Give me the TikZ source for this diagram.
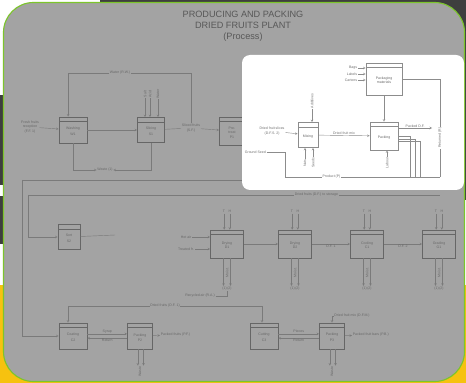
\documentclass[tikz,border=0pt]{standalone}
\usepackage{fontspec}
\setmainfont{Liberation Sans}
\definecolor{panelc}{HTML}{A3A3A3}
\definecolor{linec}{HTML}{7A7A7A}
\definecolor{boxc}{HTML}{666666}
\definecolor{txtc}{HTML}{686868}
\definecolor{titlec}{HTML}{585858}
\definecolor{insetc}{HTML}{8C8C8C}
\definecolor{greenc}{HTML}{7CC52B}
\definecolor{darkbg}{HTML}{3E3E3E}
\definecolor{yellowc}{HTML}{F6C20F}

\begin{document}
\begin{tikzpicture}[
  x=0.05cm,y=-0.05cm,>=stealth,
  blk/.style={draw=boxc,fill=panelc,line width=1pt,
    minimum width=1.4cm,minimum height=1.3cm,inner sep=1pt,align=center,
    font=\fontsize{5}{6}\selectfont,text=txtc,
    path picture={\draw[boxc,line width=0.6pt]
      ([yshift=-6pt]path picture bounding box.north west) --
      ([yshift=-6pt]path picture bounding box.north east);}},
  iblk/.style={blk,draw=insetc,fill=white,
    path picture={\draw[insetc,line width=0.6pt]
      ([yshift=-6pt]path picture bounding box.north west) --
      ([yshift=-6pt]path picture bounding box.north east);}},
  ln/.style={linec,line width=0.6pt},
  iln/.style={insetc,line width=0.6pt},
  lbl/.style={font=\fontsize{5}{6}\selectfont,text=txtc,align=center,inner sep=1pt},
  ilbl/.style={lbl,text=insetc!80!black},
  title/.style={font=\fontsize{13}{15.5}\selectfont,text=titlec,align=center}
]
  \useasboundingbox (0,0) rectangle (466,383);
  % backdrop
  \fill[white] (0,0) rectangle (466,383);
  \fill[darkbg] (100,0) rectangle (466,200);
  \fill[darkbg] (0,95) rectangle (8,185);
  \fill[darkbg] (0,196) rectangle (8,244);
  \fill[yellowc] (0,285) rectangle (466,383);
  \draw[greenc,line width=1.6pt,fill=panelc,rounded corners=1.5cm]
    (3.5,2.5) rectangle (464.5,381.5);

  \node[title] (ttl) at (243,26) {PRODUCING AND PACKING\\DRIED FRUITS PLANT\\(Process)};

  % first line
  \node[blk] (wash) at (73,130) {\\[2pt]Washing\\[2pt]W1};
  \node[blk,minimum width=1.35cm,minimum height=1.25cm] (slice) at (151,130) {\\[2pt]Slicing\\[2pt]S1};
  \node[blk,minimum width=1.25cm,minimum height=1.4cm] (pret) at (232,131) {\\[2pt]Pre-\\treat\\P1};
  \node[lbl] (rawin) at (30,127) {Fresh fruits\\reception\\(F.F. 1)};
  \node[lbl] (slout) at (191,128) {Sliced fruits\\(S.F.)};
  \draw[ln,->] (rawin) -- (wash);
  \draw[ln,->] (wash) -- (slice);
  \draw[ln] (slice) -- (slout);
  \draw[ln,->] (slout) -- (pret);
  \node[lbl,fill=panelc] (wrec) at (120,73) {Water (R.W.)};
  \draw[ln] (slout.north) |- (wrec);
  \draw[ln,->] (wrec) -| (wash.110);
  \foreach \i/\xo/\t in {1/-6/Salt,2/-1/Acid,3/7/Water}{
    \node[lbl,rotate=90] (sin\i) at (151+\xo,94) {\t};
    \draw[ln,->] (sin\i) -- (sin\i |- slice.north);
  }
  \node[lbl,fill=panelc] (wst) at (105,170) {Waste (1)};
  \draw[ln,->] (wash.south) |- (wst);
  \draw[ln,->] (slice.south) |- (wst);

  % return lines
  \coordinate (r1a) at (22,180);
  \coordinate (r1b) at (242,180);
  \coordinate (r2a) at (28,195);
  \coordinate (r2b) at (440,195);
  \draw[ln] (r1a) -- (r1b);
  \draw[ln] (r2a) -- node[lbl,fill=panelc,pos=0.7]{Dried fruits (D.F.) to storage} (r2b);

  % second line
  \node[blk,minimum width=1.1cm,minimum height=1.25cm] (sort) at (69,237) {\\[2pt]Sort\\[2pt]S2};
  \coordinate (so) at (115,235);
  \draw[ln,->] (r2a) |- (sort);
  \draw[ln] (sort) -- (so);
  \foreach \n/\x/\t in {dryA/227/{Drying\\D1},dryB/295/{Drying\\D2},cool/367/{Cooling\\C1},grade/439/{Grading\\G1}}
    \node[blk,minimum width=1.65cm,minimum height=1.4cm] (\n) at (\x,244) {\\[2pt]\t};
  \node[lbl] (hot) at (186,237) {Hot air};
  \node[lbl] (pin) at (186,249) {Treated fr.};
  \draw[ln,->] (hot) -- (hot -| dryA.west);
  \draw[ln,->] (pin) -- (pin -| dryA.west);
  \draw[ln,->] (dryA) -- (dryB);
  \draw[ln,->] (dryB) -- node[lbl,below]{D.F. 1} (cool);
  \draw[ln,->] (cool) -- node[lbl,below]{D.F. 2} (grade);
  \foreach \n in {dryA,dryB,cool,grade}{
    \path (\n.north) ++(0,-18) node[lbl] (\n-t) {T\quad H};
    \draw[ln,->] ([xshift=-4pt]\n-t.south) -- ([xshift=-4pt]\n.north);
    \draw[ln,->] ([xshift=4pt]\n-t.south) -- ([xshift=4pt]\n.north);
    \path (\n.south) ++(0,30) node[lbl] (\n-b) {(1)\,(2)};
    \path (\n.south) ++(0,14) node[lbl,rotate=90] (\n-m) {Moist.};
    \draw[ln,->] ([xshift=-5pt]\n.south) -- ([xshift=-5pt]\n-b.north);
    \draw[ln,->] ([xshift=5pt]\n.south) -- ([xshift=5pt]\n-b.north);
  }
  \node[lbl,fill=panelc] (rcy) at (200,296) {Recycled air (R.A.)};
  \coordinate (r3a) at (68,306);
  \coordinate (r3b) at (262,306);
  \draw[ln] (r3a) -- node[lbl,fill=panelc]{Dried fruits (D.F. 1)} (r3b);
  \draw[ln] (rcy) -| (dryA-b);

  % third line
  \node[blk] (coat) at (73,336) {\\[2pt]Coating\\[2pt]C2};
  \node[blk,minimum width=1.25cm] (bag) at (140,336) {\\[2pt]Packing\\[2pt]P2};
  \node[blk] (cut) at (264,336) {\\[2pt]Cutting\\[2pt]C3};
  \node[blk,minimum width=1.25cm] (box) at (332,336) {\\[2pt]Packing\\[2pt]P3};
  \draw[ln,->] (r1a) |- (coat);
  \draw[ln,->] (r3a) -- (r3a |- coat.north);
  \draw[ln,->] (r3b) -- (r3b |- cut.north);
  \draw[ln,->] ([yshift=3pt]coat.east) -- node[lbl,above]{Syrup} ([yshift=3pt]bag.west);
  \draw[ln,<-] ([yshift=-3pt]coat.east) -- node[lbl,below]{Return} ([yshift=-3pt]bag.west);
  \draw[ln,->] ([yshift=3pt]cut.east) -- node[lbl,above]{Pieces} ([yshift=3pt]box.west);
  \draw[ln,<-] ([yshift=-3pt]cut.east) -- node[lbl,below]{Return} ([yshift=-3pt]box.west);
  \node[lbl,anchor=west] (bagout) at (160,335) {Packed fruits (P.F.)};
  \node[lbl,anchor=west] (boxout) at (352,335) {Packed fruit bars (P.B.)};
  \draw[ln,->] (bag) -- (bagout);
  \draw[ln,->] (box) -- (boxout);
  \node[lbl] (dfm) at (352,316) {Dried fruit mix (D.F.M.)};
  \draw[ln,->] (dfm) -| (box.north);
  \foreach \n in {bag,box}{
    \path (\n.south) ++(0,22) node[lbl,rotate=90] (\n-w) {Waste};
    \draw[ln,->] ([xshift=-3pt]\n.south) -- ([xshift=-3pt]\n-w.east);
    \draw[ln,->] ([xshift=5pt]\n.south) -- ([xshift=5pt]\n-w.east);
  }

  % white inset
  \fill[white] (242,55) [rounded corners=0.4cm] rectangle (464,190);
  \node[iblk,minimum width=1.8cm,minimum height=1.6cm] (pkm) at (384,79) {\\[2pt]Packaging\\materials};
  \foreach \i/\y/\t in {1/68/Bags,2/74/Labels,3/80/Cartons}{
    \node[ilbl,anchor=east] (pm\i) at (358,\y) {\t};
    \draw[iln,->] (pm\i) -- (pm\i -| pkm.west);
  }
  \node[iblk,minimum width=1.0cm,minimum height=1.25cm] (mix) at (308,135) {\\[2pt]Mixing};
  \node[iblk,minimum width=1.4cm,minimum height=1.4cm] (pack) at (384,136) {\\[2pt]Packing};
  \node[ilbl] (dfs) at (272,131) {Dried fruit slices\\(D.F.S. 2)};
  \draw[iln,->] (pkm) -- (pack);
  \draw[iln,->] (dfs) -- (mix);
  \draw[iln,->] (mix) -- node[ilbl,above]{Dried fruit mix} (pack);
  \node[ilbl,rotate=90] (addv) at (312,101) {Additives};
  \draw[iln,->] (addv) -- (addv |- mix.north);
  \node[ilbl,rotate=90] (nut) at (305,163) {Nuts};
  \node[ilbl,rotate=90] (sed) at (313,163) {Seeds};
  \draw[iln,->] (nut) -- (nut |- mix.south);
  \draw[iln,->] (sed) -- (sed |- mix.south);
  \node[ilbl,rotate=90] (lbr) at (387,163) {Labour};
  \draw[iln,->] (lbr) -- (lbr |- pack.south);
  \coordinate (pend) at (432,128);
  \draw[iln,->] (pack.east |- pend) -- node[ilbl,above]{Packed D.F.} (pend);
  \coordinate (bl) at (285,177);
  \coordinate (br) at (440,177);
  \draw[iln] (bl) -- node[ilbl,fill=white,pos=0.3]{Product (P)} (br);
  \foreach \dy/\x in {0/410,4/415,8/420}
    \draw[iln] ([yshift=-\dy pt]pack.east) -| (\x,0 |- bl);
  \draw[iln] (pkm.east) -| node[ilbl,rotate=90,fill=white,pos=0.8]{Returned (R)} (br);
  \node[ilbl,anchor=west] (gsd) at (244,152) {Ground Seed};
  \draw[iln] (gsd) -| (bl);
\end{tikzpicture}
\end{document}
